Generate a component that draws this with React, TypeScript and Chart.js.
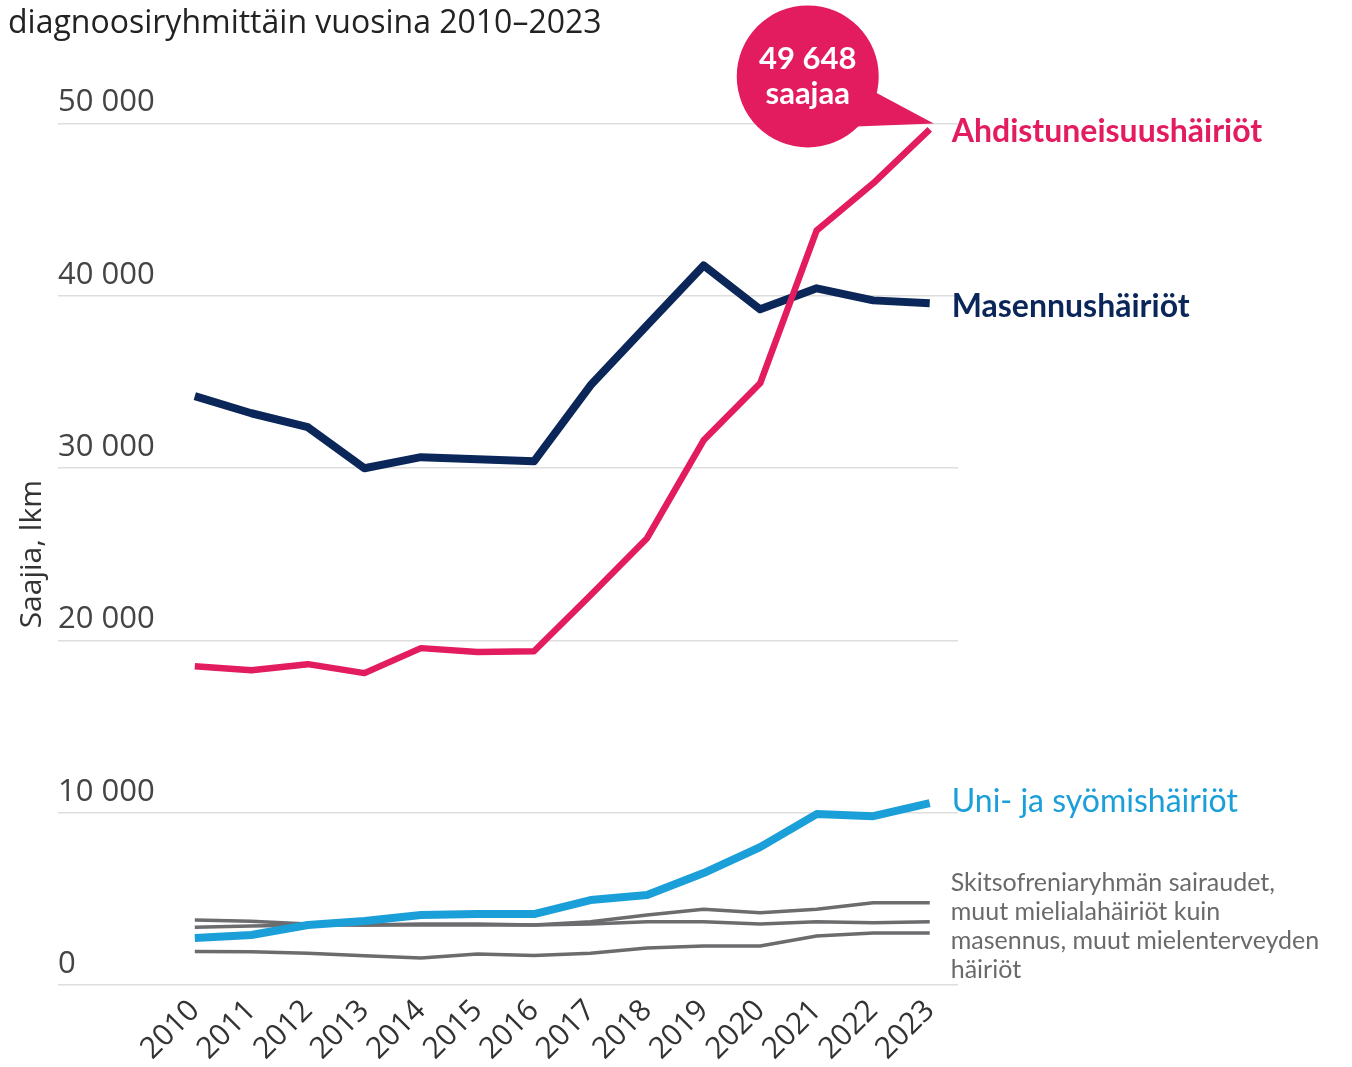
import React, { useEffect, useRef } from 'react';
import { Chart, registerables } from 'chart.js';

Chart.register(...registerables);

const years = [2010, 2011, 2012, 2013, 2014, 2015, 2016, 2017, 2018, 2019, 2020, 2021, 2022, 2023];
const ahdistuneisuus = [18500, 18270, 18620, 18100, 19550, 19320, 19370, 22620, 25930, 31610, 34920, 43790, 46520, 49648];
const masennus = [34170, 33180, 32370, 29990, 30630, 30510, 30390, 34800, 38280, 41760, 39210, 40430, 39730, 39560];
const uniSyomis = [2730, 2900, 3480, 3710, 4060, 4120, 4120, 4930, 5220, 6500, 8000, 9920, 9800, 10560];
const muutA = [3770, 3700, 3540, 3480, 3480, 3480, 3480, 3670, 4060, 4400, 4190, 4400, 4770, 4770];
const muutB = [3360, 3420, 3480, 3480, 3540, 3540, 3480, 3540, 3670, 3670, 3540, 3670, 3610, 3670];
const muutC = [1950, 1930, 1850, 1700, 1570, 1800, 1720, 1850, 2150, 2260, 2260, 2840, 3020, 3020];
const yTickValues = [0, 10000, 20000, 30000, 40000, 50000];

const titleText = 'diagnoosiryhmittäin vuosina 2010–2023';
const yAxisTitle = 'Saajia, lkm';
const seriesNames = ['Ahdistuneisuushäiriöt', 'Masennushäiriöt', 'Uni- ja syömishäiriöt'];
const muutLabelLines = ['Skitsofreniaryhmän sairaudet,', 'muut mielialahäiriöt kuin', 'masennus, muut mielenterveyden', 'häiriöt'];
const calloutLines = ['49 648', 'saajaa'];

const PINK = '#e31c5f';
const NAVY = '#0b2658';
const BLUE = '#1a9fd8';
const GRAY = '#6c6c6f';
const GRAY_TEXT = '#6a6a6a';

const fmt = (v: number) => String(v).replace(/\B(?=(\d{3})+(?!\d))/g, ' ');
const pts = (arr: number[]) => arr.map((v, i) => ({ x: years[i], y: v }));

const labelPlugin = {
  id: 'seriesLabels',
  afterDatasetsDraw(chart: any) {
    const { ctx } = chart;
    const x = chart.scales.x;
    const y = chart.scales.y;
    const lastX = x.getPixelForValue(years[years.length - 1]);
    const lastY = (arr: number[]) => y.getPixelForValue(arr[arr.length - 1]);
    const lx = lastX + 22;
    ctx.save();
    ctx.textAlign = 'left';
    ctx.textBaseline = 'middle';

    ctx.font = 'bold 32px Lato';
    ctx.fillStyle = PINK;
    ctx.fillText(seriesNames[0], lx, lastY(ahdistuneisuus) + 2);
    ctx.fillStyle = NAVY;
    ctx.fillText(seriesNames[1], lx, lastY(masennus) + 3);
    ctx.font = '32px Lato';
    ctx.fillStyle = BLUE;
    ctx.fillText(seriesNames[2], lx, lastY(uniSyomis) - 1);

    ctx.font = '25px Lato';
    ctx.fillStyle = GRAY_TEXT;
    const gy = lastY(muutA) - 20;
    muutLabelLines.forEach((t, i) => ctx.fillText(t, lx - 1, gy + i * 29));

    // callout bubble
    const px = lastX;
    const py = lastY(ahdistuneisuus);
    const cx = px - 122;
    const cy = py - 53;
    const r = 71;
    ctx.fillStyle = PINK;
    ctx.beginPath();
    ctx.arc(cx, cy, r, 0, Math.PI * 2);
    ctx.fill();
    ctx.beginPath();
    ctx.moveTo(cx + 48, cy + 50);
    ctx.lineTo(cx + 68, cy + 16);
    ctx.lineTo(px + 4, py - 6);
    ctx.closePath();
    ctx.fill();
    ctx.fillStyle = '#ffffff';
    ctx.textAlign = 'center';
    ctx.font = 'bold 31px Lato';
    ctx.fillText(calloutLines[0], cx, cy - 17);
    ctx.fillText(calloutLines[1], cx, cy + 18);
    ctx.restore();
  },
};

export default function App() {
  const ref = useRef<HTMLCanvasElement>(null);
  useEffect(() => {
    const line = (data: number[], color: string, width: number) => ({
      data: pts(data),
      borderColor: color,
      backgroundColor: color,
      borderWidth: width,
      pointRadius: 0,
      tension: 0,
      fill: false,
      borderJoinStyle: 'round' as const,
      borderCapStyle: 'butt' as const,
    });
    const chart = new Chart(ref.current as HTMLCanvasElement, {
      type: 'line',
      data: {
        datasets: [
          line(ahdistuneisuus, PINK, 6.5),
          line(masennus, NAVY, 8),
          line(uniSyomis, BLUE, 8),
          line(muutA, GRAY, 3.5),
          line(muutB, GRAY, 3.5),
          line(muutC, GRAY, 3.5),
        ],
      },
      options: {
        animation: false,
        responsive: false,
        layout: { padding: { left: 8, right: 394, top: 0, bottom: 0 } },
        plugins: {
          legend: { display: false },
          tooltip: { enabled: false },
          title: {
            display: true,
            text: titleText,
            align: 'start',
            color: '#222222',
            font: { family: 'Open Sans', size: 32, weight: 'normal' },
            padding: { top: 5, bottom: 80 },
          },
        },
        scales: {
          x: {
            type: 'linear',
            min: 2007.58,
            max: 2023.5,
            afterBuildTicks: (scale: any) => {
              scale.ticks = years.map((v) => ({ value: v }));
            },
            grid: { display: false },
            border: { display: false },
            ticks: {
              autoSkip: false,
              maxRotation: 45,
              minRotation: 45,
              padding: 0,
              color: '#333333',
              font: { family: 'Open Sans', size: 30 },
              callback: (v: any) => String(v),
            },
          },
          y: {
            min: 0,
            max: 50000,
            afterBuildTicks: (scale: any) => {
              scale.ticks = yTickValues.map((v) => ({ value: v }));
            },
            grid: { color: '#dedede', lineWidth: 1.5, drawTicks: false },
            border: { display: false },
            title: {
              display: true,
              text: yAxisTitle,
              color: '#333333',
              font: { family: 'Open Sans', size: 30 },
              padding: { top: 6, bottom: 8 },
            },
            ticks: {
              mirror: true,
              padding: 0,
              labelOffset: -21,
              color: '#444444',
              font: { family: 'Open Sans', size: 31 },
              callback: (v: any) => fmt(Number(v)),
            },
          },
        },
      },
      plugins: [labelPlugin],
    } as any);
    return () => chart.destroy();
  }, []);
  return (
    <div style={{ position: 'fixed', left: 0, top: 0, width: 1352, height: 1067, background: '#ffffff' }}>
      <canvas ref={ref} width={1352} height={1067} />
    </div>
  );
}
